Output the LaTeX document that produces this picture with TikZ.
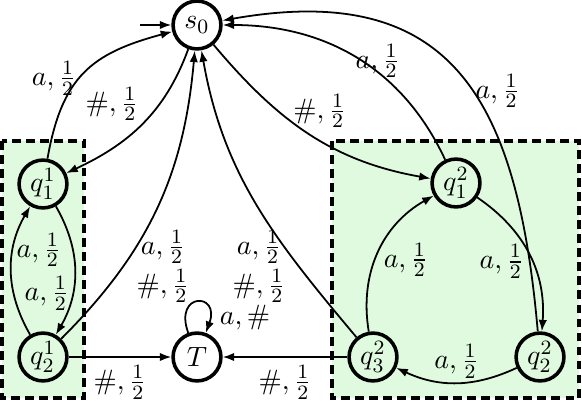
\documentclass[tikz,border=0pt]{standalone}
\usepackage{amsmath}
\usepackage{tikz}
\usetikzlibrary{positioning,arrows.meta}
\definecolor{grpGreen}{RGB}{224,250,224}

\begin{document}
\begin{tikzpicture}[x=0.0138cm, y=-0.0138cm, >={Latex[length=4.5pt,width=3.3pt]},
  line width=0.7pt, font=\fontsize{11}{13}\selectfont, inner sep=1pt,
  stnode/.style={circle, draw, line width=1.4pt, minimum size=6.6mm, inner sep=0pt},
  grpbox/.style={draw, line width=1.3pt, dash pattern=on 3.5pt off 2pt, fill=grpGreen}]
  \useasboundingbox (0,0) rectangle (582,400);
  % groups
  \draw[grpbox] (2,141) rectangle (84,398);
  \draw[grpbox] (332,141) rectangle (579,398);
  % states
  \node[stnode] (s0) at (197,25) {$s_0$};
  \node[stnode] (q11) at (43,184) {$q^1_1$};
  \node[stnode] (q21) at (43,357) {$q^1_2$};
  \node[stnode] (T) at (197,357) {$T$};
  \node[stnode] (q12) at (456,183) {$q^2_1$};
  \node[stnode] (q22) at (540,357) {$q^2_2$};
  \node[stnode] (q32) at (373,357) {$q^2_3$};
  \coordinate (start) at (140,25);
  % transitions
  \draw[->] (start) -- (s0);
  \draw[->] (q11) to[out=80,in=195,looseness=1.2] node[pos=.45,left] {$a,\frac{1}{2}$} (s0);
  \draw[->] (s0) to[out=250,in=25] node[pos=.5,above left] {$\#,\frac{1}{2}$} (q11);
  \draw[->] (q11) to[bend left=30] node[pos=.68,left] {$a,\frac{1}{2}$} (q21);
  \draw[->] (q21) to[bend left=30] node[pos=.66,right] {$a,\frac{1}{2}$} (q11);
  \draw[->] (q21) to[out=45,in=265] node[pos=.28,right=4pt,align=center] {$a,\frac{1}{2}$\\[1pt]$\#,\frac{1}{2}$} (s0);
  \draw[->] (q32) to[out=130,in=280] node[pos=.26,left=4pt,align=center] {$a,\frac{1}{2}$\\[1pt]$\#,\frac{1}{2}$} (s0);
  \draw[->] (s0) to[out=310,in=170] node[pos=.55,above=3.5pt] {$\#,\frac{1}{2}$} (q12);
  \draw[->] (q12) to[out=115,in=0] node[pos=.4,yshift=4.5pt] {$a,\frac{1}{2}$} (s0);
  \draw[->] (q22) to[out=95,in=10,looseness=1.35] node[pos=.45,right] {$a,\frac{1}{2}$} (s0);
  \draw[->] (q32) to[bend left=35] node[pos=.45,right=2pt] {$a,\frac{1}{2}$} (q12);
  \draw[->] (q12) to[bend left=30] node[pos=.55,left=2pt] {$a,\frac{1}{2}$} (q22);
  \draw[->] (q22) to[bend left=25] node[above=.5pt] {$a,\frac{1}{2}$} (q32);
  \draw[->] (q21) -- node[below=2pt] {$\#,\frac{1}{2}$} (T);
  \draw[->] (q32) -- node[below=2pt] {$\#,\frac{1}{2}$} (T);
  \draw[->] (T) to[out=110,in=70,min distance=6mm] node[pos=.85,right=3pt] {$a,\#$} (T);
\end{tikzpicture}
\end{document}
